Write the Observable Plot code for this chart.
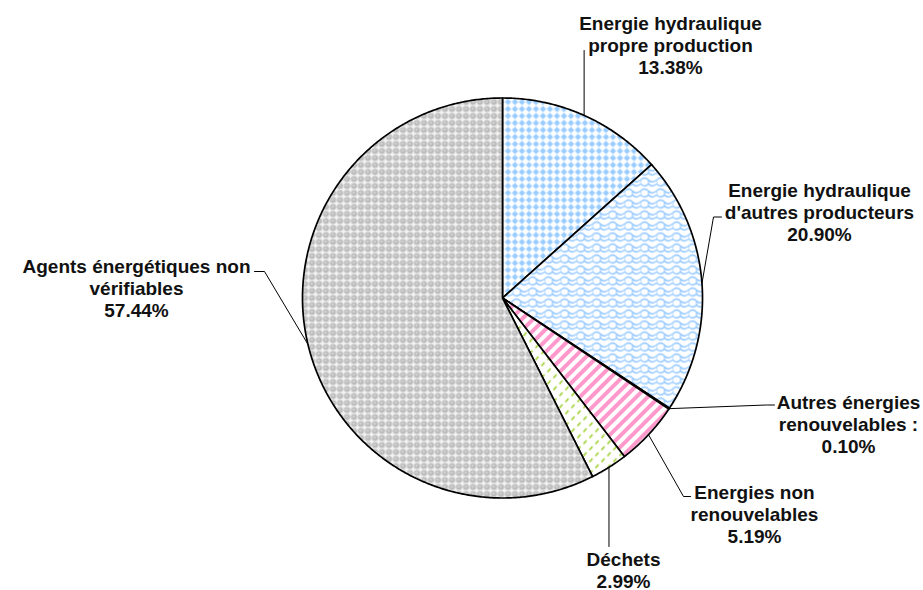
<!DOCTYPE html>
<html><head><meta charset="utf-8">
<script src="https://cdn.jsdelivr.net/npm/d3@7"></script>
<script src="https://cdn.jsdelivr.net/npm/@observablehq/plot@0.6"></script>
<style>body{margin:0;background:#fff}</style>
</head><body><div id="chart"></div>
<script>
// ---- data ----
const categories = [
  "Energie hydraulique propre production",
  "Energie hydraulique d'autres producteurs",
  "Autres énergies renouvelables",
  "Energies non renouvelables",
  "Déchets",
  "Agents énergétiques non vérifiables"
];
const labelTexts = [
  "Energie hydraulique\npropre production",
  "Energie hydraulique\nd'autres producteurs",
  "Autres énergies\nrenouvelables :",
  "Energies non\nrenouvelables",
  "Déchets",
  "Agents énergétiques non\nvérifiables"
];
const shares = [13.38, 20.90, 0.10, 5.19, 2.99, 57.44];
const patternIds = ["pDiamond", "pShingle", "pGreen", "pStripe", "pDash", "pSphere"];

// ---- layout (pixels) ----
const W = 923, H = 590, CX = 502, CY = 297.5, R = 200;
// label: text center x, top of first line; leader elbows (null = same as edge point)
const labelLayout = [
  {tx: 670, ty: 13.5, elbows: [[null, 50]]},
  {tx: 819, ty: 180.5, elbows: [[713, 216.5], [721, 216.5]]},
  {tx: 848, ty: 392.5, elbows: [[766, 404.5], [774, 404.5]]},
  {tx: 754, ty: 482.5, elbows: [[683, 496], [690, 496]]},
  {tx: 623, ty: 549.5, elbows: [[null, 546]]},
  {tx: 136, ty: 257, elbows: [[264, 271], [254, 271]]}
];
const ux = px => (px - CX) / R, uy = py => (CY - py) / R;

const arcs = d3.pie().sort(null).value(d => d).startAngle(0).endAngle(2 * Math.PI)(shares);

const sliceMarks = arcs.map((a, i) => {
  const pts = [{x: 0, y: 0}];
  const n = Math.max(2, Math.ceil((a.endAngle - a.startAngle) * 180 / Math.PI * 2));
  for (let k = 0; k <= n; k++) {
    const t = a.startAngle + (a.endAngle - a.startAngle) * k / n;
    pts.push({x: Math.sin(t), y: Math.cos(t)});
  }
  pts.push({x: 0, y: 0});
  return Plot.line(pts, {x: "x", y: "y", fill: `url(#${patternIds[i]})`, stroke: "black", strokeWidth: 1.7, strokeLinejoin: "round"});
});

const leaderPts = [];
const labelData = [];
arcs.forEach((a, i) => {
  const m = (a.startAngle + a.endAngle) / 2;
  const ex = Math.sin(m), ey = Math.cos(m);
  leaderPts.push({i, x: ex, y: ey});
  labelLayout[i].elbows.forEach(([px, py]) => {
    leaderPts.push({i, x: px == null ? ex : ux(px), y: py == null ? ey : uy(py)});
  });
  labelData.push({x: ux(labelLayout[i].tx), y: uy(labelLayout[i].ty), text: `${labelTexts[i]}\n${shares[i].toFixed(2)}%`});
});

const svg = Plot.plot({
  width: W, height: H, margin: 0,
  x: {domain: [ux(0), ux(W)], axis: null},
  y: {domain: [uy(H), uy(0)], axis: null},
  style: {fontFamily: "'Liberation Sans', Arial, sans-serif", background: "white", overflow: "visible"},
  marks: [
    ...sliceMarks,
    Plot.line(leaderPts, {x: "x", y: "y", z: "i", stroke: "black", strokeWidth: 1}),
    Plot.text(labelData, {x: "x", y: "y", text: "text", fontSize: 19, fontWeight: "bold", lineAnchor: "top", lineHeight: 22 / 19, textAnchor: "middle", fill: "#111"})
  ]
});

// pattern definitions
const defs = d3.select(svg).insert("defs", ":first-child");
function pat(id, w, h, attrs = {}) {
  const p = defs.append("pattern").attr("id", id).attr("width", w).attr("height", h).attr("patternUnits", "userSpaceOnUse");
  Object.entries(attrs).forEach(([k, v]) => p.attr(k, v));
  return p;
}
let p = pat("pDiamond", 7, 7);
p.append("rect").attr("width", 7).attr("height", 7).attr("fill", "white");
p.append("polygon").attr("points", "3.5,0.3 6.7,3.5 3.5,6.7 0.3,3.5").attr("fill", "#99CCFF");

p = pat("pShingle", 16, 11);
p.append("rect").attr("width", 16).attr("height", 11).attr("fill", "white");
p.append("path").attr("d", "M0,3.5 Q4,-0.5 8,3.5 T16,3.5 M8,3.5 V7.5 Q12,11.5 16,7.5 M0,7.5 Q4,11.5 8,7.5 M0,7.5 V3.5").attr("fill", "none").attr("stroke", "#8FC6FF").attr("stroke-width", 1.2);

p = pat("pGreen", 6, 6);
p.append("rect").attr("width", 6).attr("height", 6).attr("fill", "white");

p = pat("pStripe", 8, 8, {patternTransform: "rotate(-45)"});
p.append("rect").attr("width", 8).attr("height", 8).attr("fill", "white");
p.append("rect").attr("width", 8).attr("height", 4).attr("fill", "#FF99CC");

p = pat("pDash", 12, 12);
p.append("rect").attr("width", 12).attr("height", 12).attr("fill", "white");
p.append("path").attr("d", "M1,5.5 L4,2 M7,11.5 L10,8").attr("stroke", "#99CC22").attr("stroke-width", 1.5);

p = pat("pSphere", 7, 7);
p.append("rect").attr("width", 7).attr("height", 7).attr("fill", "#f2f2f2");
p.append("circle").attr("cx", 3.5).attr("cy", 3.5).attr("r", 3.05).attr("fill", "#b9b9b9");
p.append("circle").attr("cx", 3.2).attr("cy", 3.1).attr("r", 1.5).attr("fill", "#cfcfcf");

document.getElementById("chart").appendChild(svg);
</script>
</body></html>
